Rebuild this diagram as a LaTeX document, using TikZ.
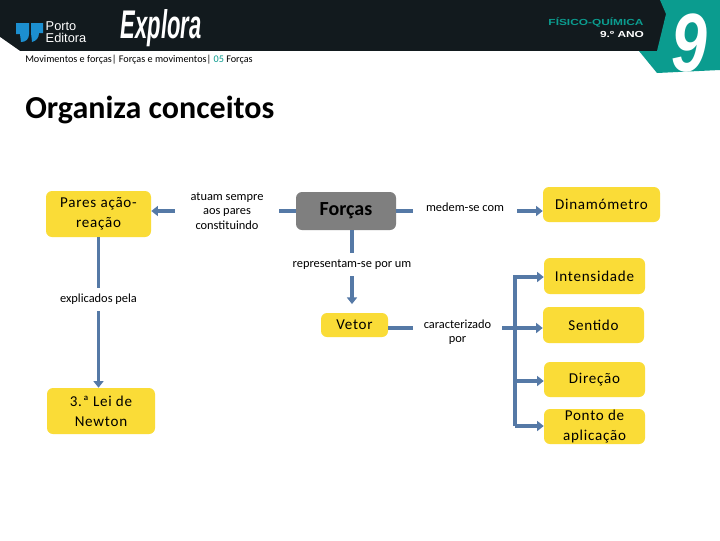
\documentclass[tikz,border=0pt]{standalone}
\usepackage{fontspec}
\setmainfont{Carlito}
\newfontfamily\boxfont[LetterSpace=5]{Carlito}
\newfontfamily\headfont{Liberation Sans}
\usetikzlibrary{arrows.meta}
\definecolor{headdark}{HTML}{121A1E}
\definecolor{tealc}{HTML}{0B9C8F}
\definecolor{logoblue}{HTML}{1C8FD0}
\definecolor{yel}{HTML}{FADC37}
\definecolor{grayb}{HTML}{7F7F7F}
\definecolor{conn}{HTML}{5579A6}
\tikzset{
  ybox/.style={fill=yel,rounded corners=4.5pt,inner sep=0pt,align=center,font=\boxfont\fontsize{11.3}{15}\selectfont,text=black},
  lbl/.style={inner sep=0pt,align=center,font=\fontsize{9.3}{10.6}\selectfont,text=black},
  conline/.style={draw=conn,line width=2.6pt},
  conarrow/.style={conline,-{Triangle[length=5pt,width=7.5pt]}},
}
\newcommand{\bx}[7]{\node[#1,minimum width=#5*0.75pt-#4*0.75pt,minimum height=#7*0.75pt-#6*0.75pt] (#2) at ({(#4+#5)/2},{(#6+#7)/2}) {#3};}
\begin{document}
\begin{tikzpicture}[x=0.75pt,y=-0.75pt]
\useasboundingbox (0,0) rectangle (720,540);
\fill[white] (0,0) rectangle (720,540);
% header
\fill[headdark] (0,0) rectangle (720,51);
\fill[white] (0,37) -- (20,51) -- (0,51) -- cycle;
\fill[tealc] (660,0) -- (666,14) -- (657,51) -- (639,51) -- (657,73) -- (720,70) -- (720,0) -- cycle;
% logo
\fill[logoblue] (16,23) -- (29,23) -- (29,34) .. controls (29,39) and (26,42) .. (21,42) -- (20,34) -- (16,34) -- cycle;
\fill[logoblue] (31,23) -- (43,23) -- (43,33) -- (39,33) .. controls (39,38) and (36,41) .. (32,42) -- (31,33) -- cycle;
\node[inner sep=0pt,align=left,text=white,font=\headfont\fontsize{9.6}{8.7}\selectfont] (logotext) at (66,32) {Porto\\Editora};
\node[inner sep=0pt,text=white,font=\headfont\bfseries\itshape\fontsize{30}{30}\selectfont,xscale=0.55,transform shape] (explora) at (161,28) {Explora};
\node[inner sep=0pt,text=tealc,font=\headfont\bfseries\fontsize{6.6}{7}\selectfont,xscale=1.35,transform shape] (fq) at (596,22) {FÍSICO-QUÍMICA};
\node[inner sep=0pt,text=white,font=\headfont\bfseries\fontsize{6.6}{7}\selectfont,xscale=1.35,transform shape] (ano) at (622,34) {9.º ANO};
\node[inner sep=0pt,text=white,font=\headfont\bfseries\itshape\fontsize{62}{62}\selectfont,xscale=0.78,transform shape] (nine) at (689,43) {9};
% titles
\node[inner sep=0pt,anchor=west,font=\fontsize{7.65}{9}\selectfont] (crumb) at (25,60) {Movimentos e forças| Forças e movimentos| \textcolor{tealc}{05} Forças};
\node[inner sep=0pt,anchor=west,font=\bfseries\fontsize{24}{28}\selectfont] (title) at (25,109.5) {Organiza conceitos};
% boxes
\bx{ybox}{pares}{Pares ação-\\reação}{46}{151}{191}{237}
\bx{ybox,fill=grayb,font=\bfseries\fontsize{15}{18}\selectfont}{forcas}{Forças}{296}{396}{192}{230}
\bx{ybox}{dinam}{Dinamómetro}{543}{660}{187}{222}
\bx{ybox}{inten}{Intensidade}{544}{645}{258}{294}
\bx{ybox}{sent}{Sentido}{543}{644}{307}{343}
\bx{ybox}{dire}{Direção}{544}{645}{362}{397}
\bx{ybox}{ponto}{Ponto de\\aplicação}{544}{645}{409}{444}
\bx{ybox}{vetor}{Vetor}{321}{388}{313}{337}
\bx{ybox}{lei}{3.ª Lei de\\Newton}{47}{155}{388}{434}
% labels
\bx{lbl}{latua}{atuam sempre\\aos pares\\constituindo}{175}{279}{190}{232}
\bx{lbl}{lmede}{medem-se com}{413}{517}{199}{215}
\bx{lbl}{lrepr}{representam-se por um}{292}{412}{253}{276}
\bx{lbl}{lexpl}{explicados pela}{58}{139}{288}{311}
\bx{lbl}{lcara}{caracterizado\\por}{413}{502}{318}{346}
\coordinate (trunk) at (515,277);
\coordinate (trunkm) at (515,381);
\coordinate (trunkb) at (515,426);
% connectors
\draw[conline] (forcas.west) -- (latua.east);
\draw[conarrow] (latua.west) -- (pares.east |- latua.west);
\draw[conline] (pares.south -| lexpl.north) -- (lexpl.north);
\draw[conarrow] (lexpl.south) -- (lei.north -| lexpl.south);
\draw[conline] (forcas.south -| lrepr.north) -- (lrepr.north);
\draw[conarrow,shorten >=6.5pt] (lrepr.south) -- (vetor.north -| lrepr.south);
\draw[conline] (forcas.east) -- (lmede.west |- forcas.east);
\draw[conarrow] (lmede.east |- forcas.east) -- (dinam.west |- forcas.east);
\draw[conline] (vetor.east |- 0,328) -- (lcara.west |- 0,328);
\draw[conarrow] (lcara.east |- 0,328) -- (sent.west |- 0,328);
\draw[conarrow] (trunkb) -- (trunk) -- (inten.west |- trunk);
\draw[conarrow] (trunkb) -- (ponto.west |- trunkb);
\draw[conarrow] (trunkm) -- (dire.west |- trunkm);
\end{tikzpicture}
\end{document}
